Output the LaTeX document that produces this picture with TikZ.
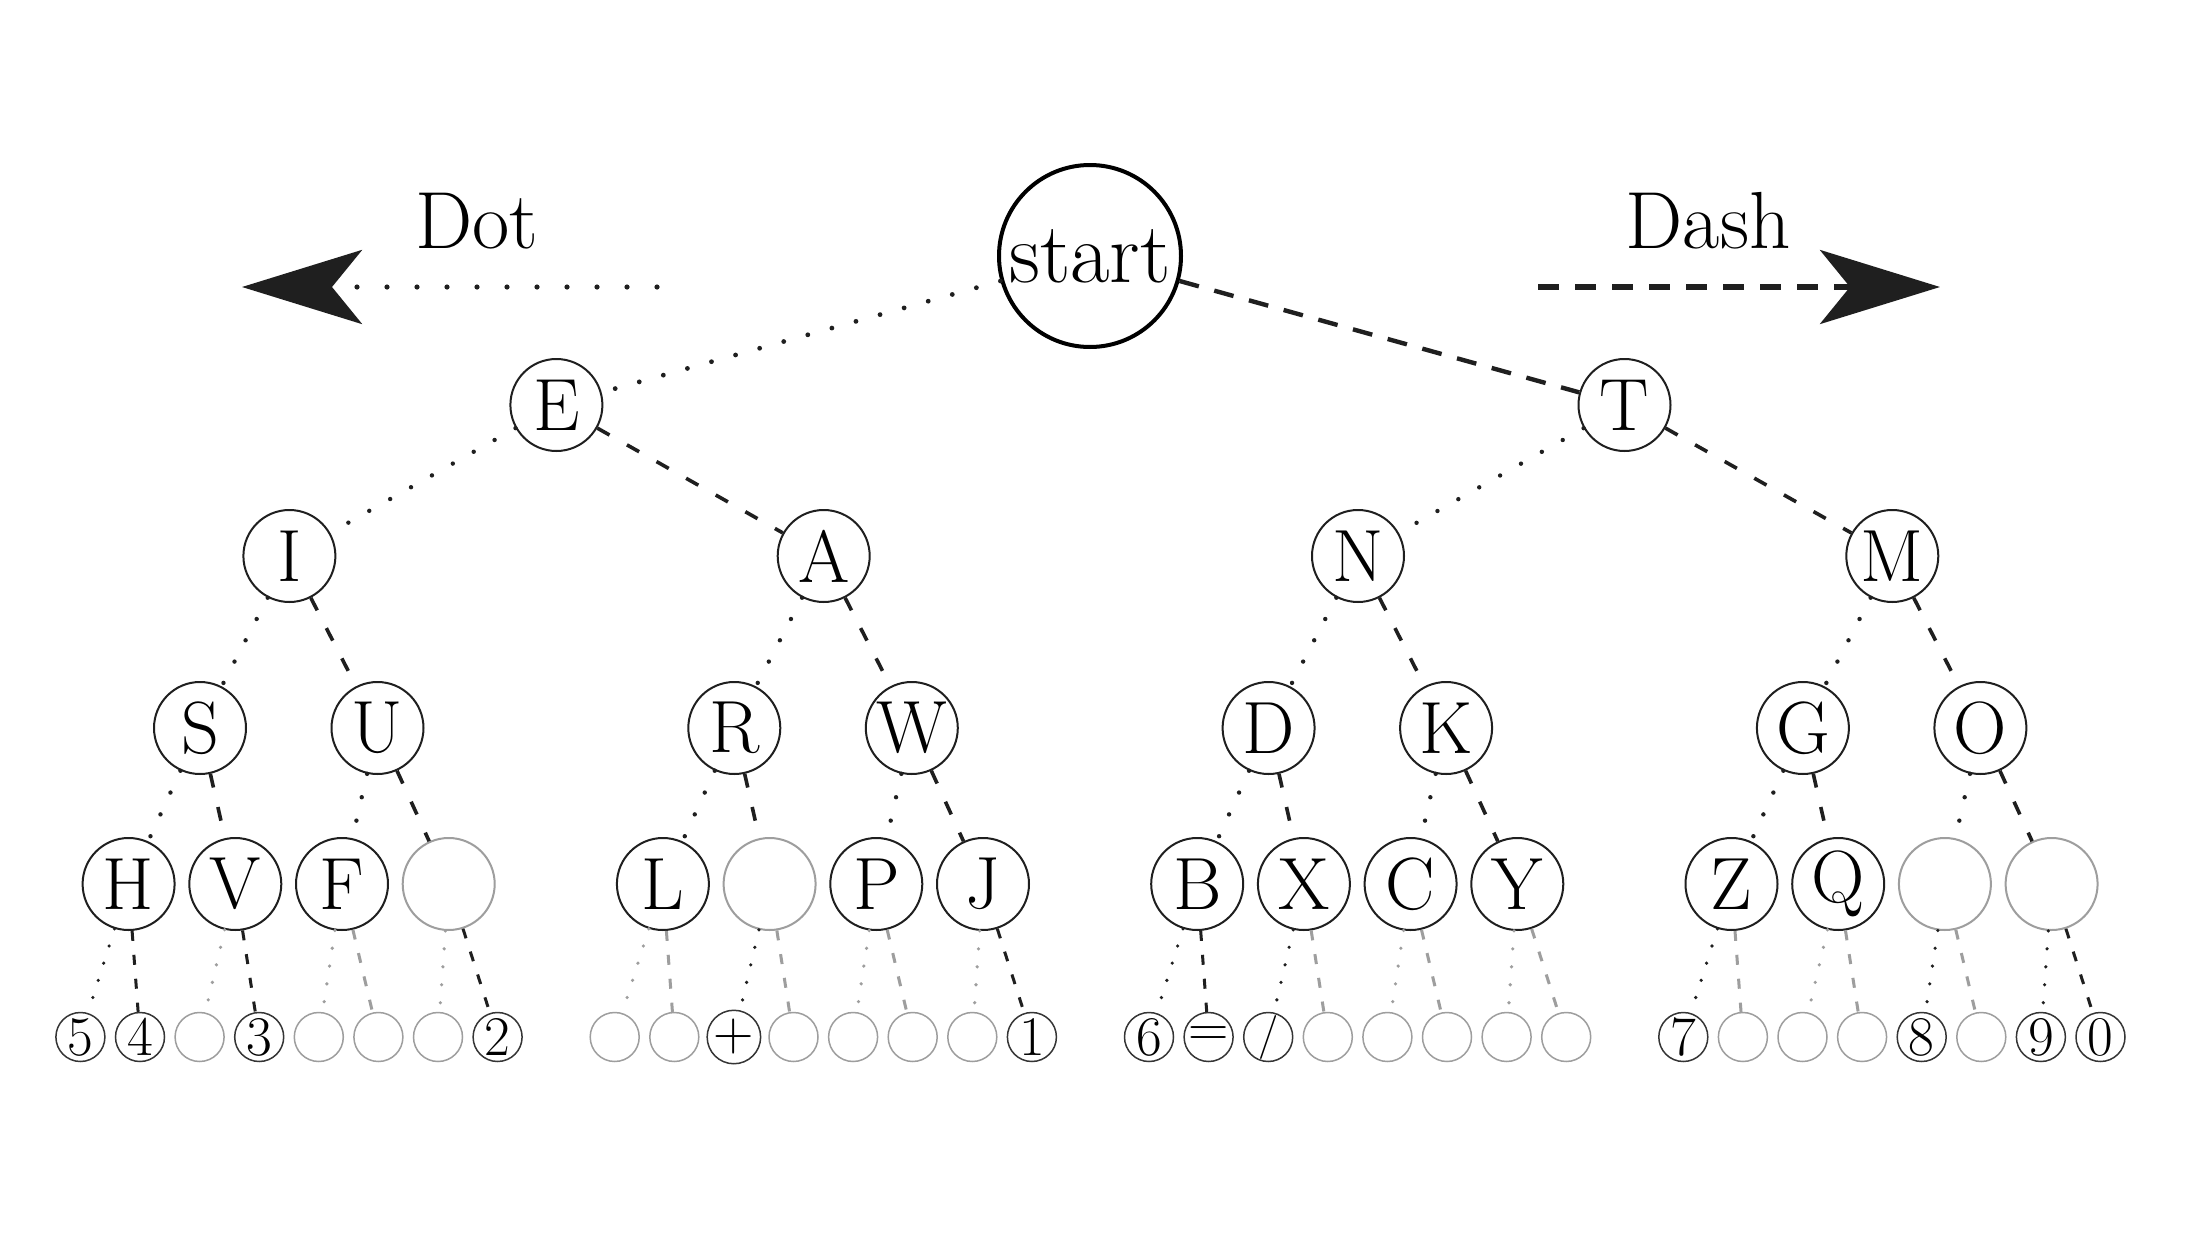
\documentclass[tikz,border=0pt]{standalone}
\usepackage{fontspec}
\usetikzlibrary{arrows.meta}
\definecolor{dk}{gray}{0.12}
\definecolor{lt}{gray}{0.62}
\begin{document}
\begin{tikzpicture}[x=0.5pt,y=-0.5pt,
  startn/.style={circle, draw=black, line width=2pt, minimum size=91pt, inner sep=0pt, font=\fontsize{43}{46}\selectfont},
  nd/.style={circle, draw=dk, line width=1pt, minimum size=46pt, inner sep=0pt, font=\fontsize{37}{40}\selectfont},
  nde/.style={nd, draw=lt},
  lf/.style={circle, draw=dk!90, line width=0.75pt, minimum size=24.5pt, inner sep=0pt, font=\fontsize{28}{30}\selectfont},
  lfe/.style={lf, draw=lt},
  lbl/.style={font=\fontsize{40.5}{42}\selectfont, inner sep=0pt},
  dotl/.style={draw=dk, line width=2.2pt, line cap=round, dash pattern=on 0pt off 12pt},
  dashl/.style={draw=dk, line width=1.8pt, dash pattern=on 7pt off 10pt},
  dotg/.style={dotl, draw=lt, line width=1.8pt, dash pattern=on 0pt off 9pt},
  dashg/.style={dashl, draw=lt, line width=1.5pt, dash pattern=on 5pt off 7pt},
  dotk/.style={dotl, line width=1.8pt, dash pattern=on 0pt off 9pt},
  dashk/.style={dashl, line width=1.5pt, dash pattern=on 5pt off 7pt},
  tip/.style={-{Stealth[length=60pt, width=37pt, inset=15pt]}}
]
\useasboundingbox[fill=white] (0,0) rectangle (2192,1242);

% legend
\node[lbl] (dot) at (477,221) {Dot};
\node[lbl] (dash) at (1708,221) {Dash};
\coordinate (dota) at (657,287);
\coordinate (dotb) at (242,287);
\coordinate (dasha) at (1538,287);
\coordinate (dashb) at (1940,287);
\draw[dotl, line width=2.6pt, dash pattern=on 0pt off 15pt, tip] (dota) -- (dotb);
\draw[dashl, line width=2.6pt, dash pattern=on 10.5pt off 8pt, tip] (dasha) -- (dashb);

% tree
\node[startn] (start) at (1090,256) {start};
\node[nd] (a0) at (556.4,405) {E};
\node[nd] (a1) at (1624.5,405) {T};
\node[nd] (b0) at (289.4,556) {I};
\node[nd] (b1) at (823.7,556) {A};
\node[nd] (b2) at (1358,556) {N};
\node[nd] (b3) at (1892.3,556) {M};
\node[nd] (c0) at (200,728) {S};
\node[nd] (c1) at (377.5,728) {U};
\node[nd] (c2) at (734.3,728) {R};
\node[nd] (c3) at (911.8,728) {W};
\node[nd] (c4) at (1268.6,728) {D};
\node[nd] (c5) at (1446.1,728) {K};
\node[nd] (c6) at (1802.9,728) {G};
\node[nd] (c7) at (1980.4,728) {O};

\node[nd]  (d0)  at (128.6,884) {H};
\node[nd]  (d1)  at (235.3,884) {V};
\node[nd]  (d2)  at (342.0,884) {F};
\node[nde] (d3)  at (448.7,884) {};
\node[nd]  (d4)  at (662.9,884) {L};
\node[nde] (d5)  at (769.6,884) {};
\node[nd]  (d6)  at (876.3,884) {P};
\node[nd]  (d7)  at (983.0,884) {J};
\node[nd]  (d8)  at (1197.2,884) {B};
\node[nd]  (d9)  at (1303.9,884) {X};
\node[nd]  (d10) at (1410.6,884) {C};
\node[nd]  (d11) at (1517.3,884) {Y};
\node[nd]  (d12) at (1731.5,884) {Z};
\node[nd]  (d13) at (1838.2,884) {Q};
\node[nde] (d14) at (1944.9,884) {};
\node[nde] (d15) at (2051.6,884) {};

% leaves
\node[lf]  (e0)  at (80.4,1037) {5};
\node[lf]  (e1)  at (140.0,1037) {4};
\node[lfe] (e2)  at (199.6,1037) {};
\node[lf]  (e3)  at (259.2,1037) {3};
\node[lfe] (e4)  at (318.8,1037) {};
\node[lfe] (e5)  at (378.4,1037) {};
\node[lfe] (e6)  at (438.0,1037) {};
\node[lf]  (e7)  at (497.6,1037) {2};
\node[lfe] (e8)  at (614.7,1037) {};
\node[lfe] (e9)  at (674.3,1037) {};
\node[lf]  (e10) at (733.9,1037) {+};
\node[lfe] (e11) at (793.5,1037) {};
\node[lfe] (e12) at (853.1,1037) {};
\node[lfe] (e13) at (912.7,1037) {};
\node[lfe] (e14) at (972.3,1037) {};
\node[lf]  (e15) at (1031.9,1037) {1};
\node[lf]  (e16) at (1149.0,1037) {6};
\node[lf]  (e17) at (1208.6,1037) {=};
\node[lf, font=\fontsize{22}{24}\selectfont]  (e18) at (1268.2,1037) {\smash{\raisebox{-0.25em}{/}}};
\node[lfe] (e19) at (1327.8,1037) {};
\node[lfe] (e20) at (1387.4,1037) {};
\node[lfe] (e21) at (1447.0,1037) {};
\node[lfe] (e22) at (1506.6,1037) {};
\node[lfe] (e23) at (1566.2,1037) {};
\node[lf]  (e24) at (1683.3,1037) {7};
\node[lfe] (e25) at (1742.9,1037) {};
\node[lfe] (e26) at (1802.5,1037) {};
\node[lfe] (e27) at (1862.1,1037) {};
\node[lf]  (e28) at (1921.7,1037) {8};
\node[lfe] (e29) at (1981.3,1037) {};
\node[lf]  (e30) at (2040.9,1037) {9};
\node[lf]  (e31) at (2100.5,1037) {0};

% upper edges
\draw[dotl, line width=2.4pt, dash pattern=on 0pt off 12.5pt] (start) -- (a0);
\draw[dashl, line width=2.2pt, dash pattern=on 10pt off 8pt] (start) -- (a1);
\foreach \p/\l/\r in {a0/b0/b1, a1/b2/b3, b0/c0/c1, b1/c2/c3, b2/c4/c5, b3/c6/c7,
  c0/d0/d1, c1/d2/d3, c2/d4/d5, c3/d6/d7, c4/d8/d9, c5/d10/d11, c6/d12/d13, c7/d14/d15}{
  \draw[dotl] (\p) -- (\l);
  \draw[dashl] (\p) -- (\r);
}
% leaf edges: dark when the leaf carries a sign
\foreach \p/\l/\r/\ls/\rs in {d0/e0/e1/dotk/dashk, d1/e2/e3/dotg/dashk, d2/e4/e5/dotg/dashg, d3/e6/e7/dotg/dashk,
  d4/e8/e9/dotg/dashg, d5/e10/e11/dotk/dashg, d6/e12/e13/dotg/dashg, d7/e14/e15/dotg/dashk,
  d8/e16/e17/dotk/dashk, d9/e18/e19/dotk/dashg, d10/e20/e21/dotg/dashg, d11/e22/e23/dotg/dashg,
  d12/e24/e25/dotk/dashg, d13/e26/e27/dotg/dashg, d14/e28/e29/dotk/dashg, d15/e30/e31/dotk/dashk}{
  \draw[\ls] (\p) -- (\l);
  \draw[\rs] (\p) -- (\r);
}
\end{tikzpicture}
\end{document}
